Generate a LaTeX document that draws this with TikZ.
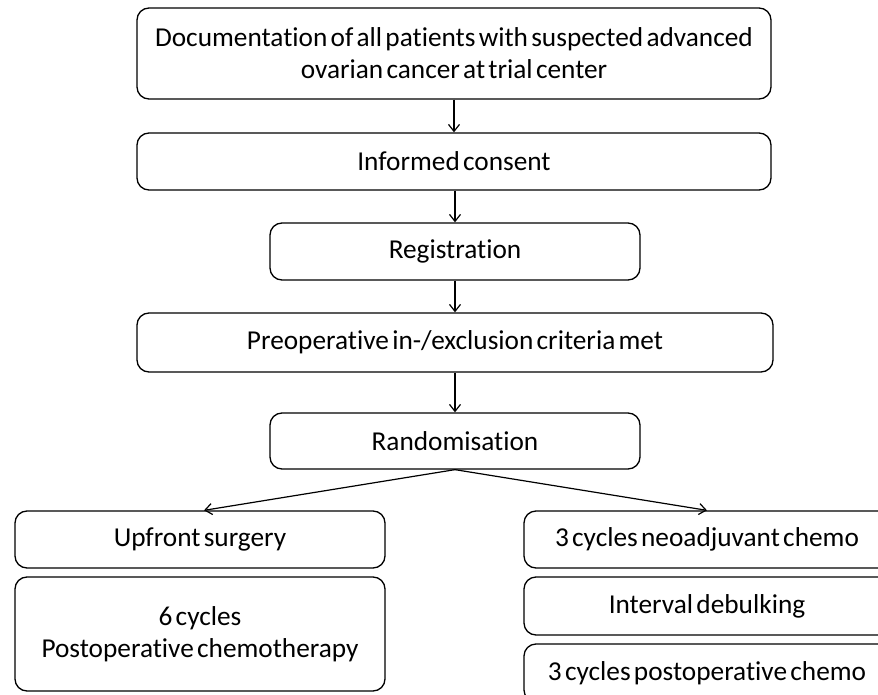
\documentclass[tikz,border=0pt]{standalone}
\usepackage{fontspec}
\setmainfont[Ligatures=NoCommon]{Carlito}
\usetikzlibrary{arrows.meta}
\newcommand{\boxfont}{\fontsize{27.3}{32}\selectfont\spaceskip=0.12em plus 0.05em\relax}
\begin{document}
\begin{tikzpicture}[x=1pt,y=-1pt,
  box/.style={draw=black, line width=1.3pt, rounded corners=12pt, inner sep=0pt,
    align=center, font=\boxfont},
  arr/.style={line width=1.2pt, -{Straight Barb[length=7pt,width=11pt,line width=1.2pt]}}]
\useasboundingbox (0,0) rectangle (878,695);
\clip (0,0) rectangle (878,695);
\node[box, minimum width=634pt, minimum height=91pt] (b1) at (454,53.5)
  {Documentation of all patients with suspected advanced\\ovarian cancer at trial center};
\node[box, minimum width=634pt, minimum height=57pt] (b2) at (454,161.5) {Informed consent};
\node[box, minimum width=370pt, minimum height=57pt] (b3) at (455,251.5) {Registration};
\node[box, minimum width=636pt, minimum height=59pt] (b4) at (455,342.5) {Preoperative in-/exclusion criteria met};
\node[box, minimum width=370pt, minimum height=56pt] (b5) at (455,441) {Randomisation};
\node[box, minimum width=370pt, minimum height=57pt] (l1) at (200,539.5) {Upfront surgery};
\node[box, minimum width=370pt, minimum height=114pt] (l2) at (200,634) {6 cycles\\Postoperative chemotherapy};
\node[box, minimum width=366pt, minimum height=57pt] (r1) at (707,539.5) {3 cycles neoadjuvant chemo};
\node[box, minimum width=366pt, minimum height=58pt] (r2) at (707,606) {Interval debulking};
\node[box, minimum width=366pt, minimum height=58pt] (r3) at (707,673) {3 cycles postoperative chemo};
\draw[arr] (b1.south) -- (b2.north);
\draw[arr] (b2.south -| b3.north) -- (b3.north);
\draw[arr] (b3.south) -- (b4.north -| b3.south);
\draw[arr] (b4.south -| b5.north) -- (b5.north);
\draw[arr] (b5.south) -- ([xshift=4pt]l1.north);
\draw[arr] (b5.south) -- (r1.north);
\end{tikzpicture}
\end{document}
